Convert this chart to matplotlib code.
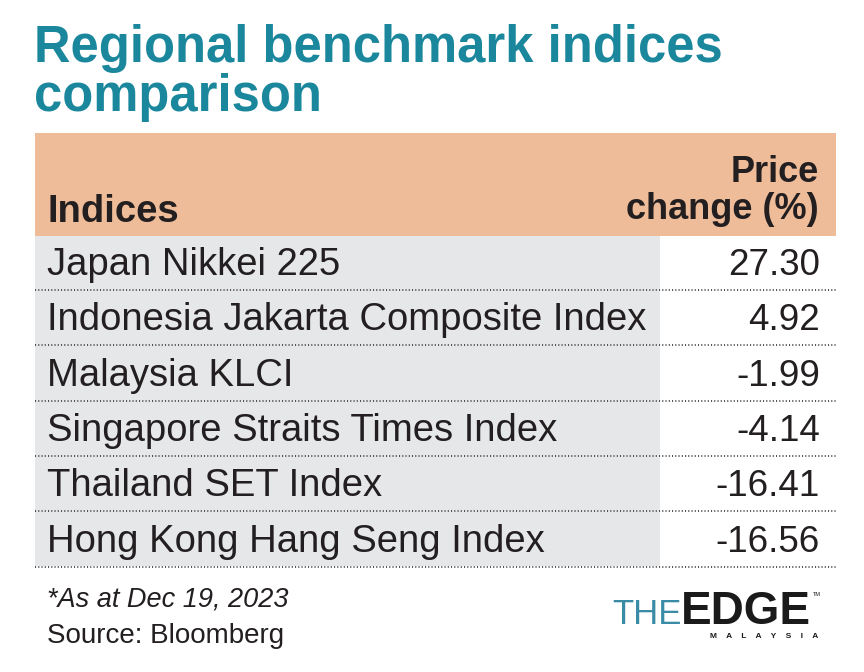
import matplotlib
matplotlib.use("Agg")
import matplotlib.pyplot as plt
from matplotlib import font_manager

# data
indices = [
    "Japan Nikkei 225",
    "Indonesia Jakarta Composite Index",
    "Malaysia KLCI",
    "Singapore Straits Times Index",
    "Thailand SET Index",
    "Hong Kong Hang Seng Index",
]
price_change = [27.30, 4.92, -1.99, -4.14, -16.41, -16.56]
title_lines = ["Regional benchmark indices", "comparison"]
col_headers = ["Indices", "Price\nchange (%)"]
note = "*As at Dec 19, 2023"
source = "Source: Bloomberg"

TEAL = "#1a879d"
ORANGE = "#efbc99"
GREY = "#e6e7e9"
INK = "#231f20"

names = {f.name for f in font_manager.fontManager.ttflist}
FONT = "Liberation Sans" if "Liberation Sans" in names else "DejaVu Sans"

fig = plt.figure(figsize=(8.64, 6.72), dpi=100)
ax = fig.add_axes([0, 0, 1, 1])
ax.set_xlim(0, 864)
ax.set_ylim(672, 0)
ax.axis("off")

# title
ax.text(34, 62, title_lines[0], fontsize=36.5, fontweight="bold", color=TEAL,
        family=FONT, va="baseline")
ax.text(34, 111, title_lines[1], fontsize=36.5, fontweight="bold", color=TEAL,
        family=FONT, va="baseline")

# header band
ax.add_patch(plt.Rectangle((35, 133), 801, 103, color=ORANGE, lw=0))
head2 = col_headers[1].split("\n")
ax.text(47, 222, col_headers[0], fontsize=27.5, fontweight="bold", color=INK,
        family=FONT, va="baseline")
ax.text(819, 182, head2[0], fontsize=26, fontweight="bold",
        color=INK, family=FONT, va="baseline", ha="right")
ax.text(819, 219, head2[1], fontsize=26, fontweight="bold",
        color=INK, family=FONT, va="baseline", ha="right")

# rows
row_h = 55.3
top = 236
ax.add_patch(plt.Rectangle((35, top), 625, row_h * len(indices) - 2, color=GREY, lw=0))
for i, (name, val) in enumerate(zip(indices, price_change)):
    base = top + 39 + i * row_h
    ax.text(47, base, name, fontsize=27.5, color=INK, family=FONT, va="baseline")
    ax.text(820, base, f"{val:.2f}", fontsize=26.5, color=INK, family=FONT,
            va="baseline", ha="right")
    y_line = top + 54 + i * row_h
    ax.plot([35, 836], [y_line, y_line], color="#444444", lw=1.3,
            linestyle=(0, (0.6, 1.2)), solid_capstyle="butt")

# footer
ax.text(47, 607, note, fontsize=19.5, style="italic", color=INK, family=FONT,
        va="baseline")
ax.text(47, 643, source, fontsize=20, color=INK, family=FONT, va="baseline")

# logo
ax.text(612, 624, "THE", fontsize=25, color="#3a8ca6", family=FONT,
        va="baseline", fontweight="normal")
ax.text(681, 624, "EDGE", fontsize=33, color="#1a1a1a", family=FONT,
        va="baseline", fontweight="bold")
ax.text(813, 596, "TM", fontsize=4, color="#1a1a1a", family=FONT, va="baseline")
ax.text(818, 638, "M    A    L    A    Y    S    I    A", fontsize=6,
        color="#1a1a1a", family=FONT, va="baseline", ha="right", fontweight="bold")

fig.savefig("out.png", dpi=100, facecolor="white")
